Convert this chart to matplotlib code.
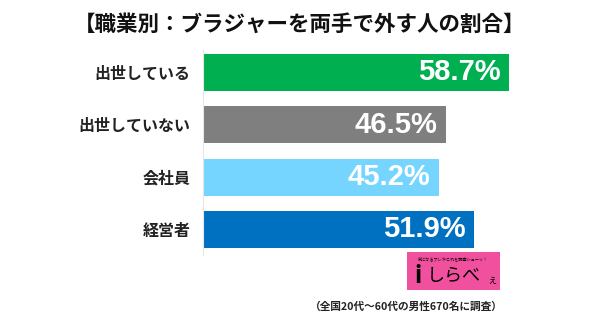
import matplotlib
matplotlib.use('Agg')
from matplotlib import pyplot as plt
from matplotlib.patches import Rectangle

plt.rcParams['font.family'] = ['Noto Sans CJK JP', 'DejaVu Sans']

# データ
categories = ['出世している', '出世していない', '会社員', '経営者']
values = [58.7, 46.5, 45.2, 51.9]
colors = ['#00B050', '#7F7F7F', '#75D5FF', '#0070C0']
title = '【職業別：ブラジャーを両手で外す人の割合】'
note = '（全国20代～60代の男性670名に調査）'

W, H = 600, 321
fig = plt.figure(figsize=(W / 100, H / 100), dpi=100)

# 軸の位置（ピクセルから換算）
left, right, top, bottom = 203, 600, 50, 255
ax = fig.add_axes([left / W, 1 - bottom / H, (right - left) / W, (bottom - top) / H])

pitch = 52.3
ypos = list(range(len(categories)))
ax.barh(ypos, values, height=0.71, color=colors)
ax.set_xlim(0, (right - left) / 5.22)
ax.set_ylim((bottom - 72.5) / pitch, (top - 72.5) / pitch)

for y, v in zip(ypos, values):
    ax.annotate('%.1f%%' % v, xy=(v, y), xytext=(-6, 0), textcoords='offset points',
                ha='right', va='center', color='white', fontsize=21, fontweight='bold',
                family=['Liberation Sans', 'DejaVu Sans'])

ax.set_yticks(ypos)
ax.set_yticklabels(categories, fontsize=11.5, fontweight='bold', color='#222222')
ax.tick_params(axis='y', length=0, pad=9)
ax.set_xticks([])
for s in ['top', 'right', 'bottom']:
    ax.spines[s].set_visible(False)
ax.spines['left'].set_color('#E6E6E6')
ax.spines['left'].set_linewidth(0.8)

# タイトル
fig.text(0.5, 1 - 24 / H, title, ha='center', va='center', fontsize=15.5,
         fontweight='bold', color='#111111')

# ロゴ
fig.patches.append(Rectangle((407 / W, 1 - 290 / H), 93 / W, 38 / H,
                             transform=fig.transFigure, facecolor='#F0509E',
                             edgecolor='none'))
fig.text(453 / W, 1 - 259 / H, '気になるアレやこれを調査シューッ！', ha='center', va='center',
         fontsize=3, color='black')
fig.text(418 / W, 1 - 276 / H, 'i', ha='center', va='center', fontsize=17,
         fontweight='bold', color='black')
fig.text(427 / W, 1 - 276 / H, 'しらべ', ha='left', va='center', fontsize=13,
         color='black')
fig.text(487 / W, 1 - 280 / H, 'ぇ', ha='left', va='center', fontsize=7,
         color='black')

# 注記
fig.text(503 / W, 1 - 307 / H, note, ha='right', va='center', fontsize=7.7,
         fontweight='bold', color='#222222')

fig.savefig('out.png', dpi=100, facecolor='white')
